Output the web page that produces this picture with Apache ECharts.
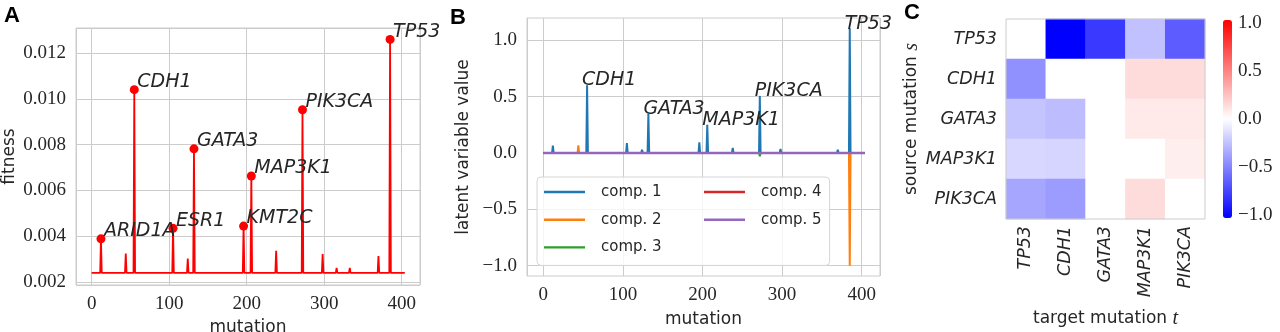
<!DOCTYPE html>
<html>
<head>
<meta charset="utf-8">
<script src="https://cdn.jsdelivr.net/npm/echarts@6/dist/echarts.min.js"></script>
<style>
  html, body { margin: 0; padding: 0; background: #fff; }
  #chart { width: 1280px; height: 332px; }
</style>
</head>
<body>
<div id="chart"></div>
<script>
// ---- data ----
const mutationMax = 404;

// panel A: fitness per mutation (spikes on a flat baseline)
const fitnessBase = 0.00239;
const fitnessPeakAt = [12, 44, 55, 105, 124, 132, 196, 206, 238, 272, 298, 316, 333, 370, 385];
const fitnessPeak = [0.00388, 0.00324, 0.01041, 0.00434, 0.00302, 0.00782, 0.00444, 0.00663,
  0.00336, 0.00953, 0.00321, 0.00261, 0.00261, 0.00313, 0.01261];
const fitnessGene = ['ARID1A', '', 'CDH1', 'ESR1', '', 'GATA3', 'KMT2C', 'MAP3K1',
  '', 'PIK3CA', '', '', '', '', 'TP53'];

// panel B: latent components (zero except at spikes)
const comp1At = [12, 55, 105, 124, 132, 196, 206, 238, 272, 298, 316, 333, 370, 385];
const comp1Val = [0.065, 0.595, 0.089, 0.03, 0.342, 0.095, 0.244, 0.045, 0.5, 0.035, 0.01, 0.01, 0.03, 1.1];
const comp2At = [44, 385];
const comp2Val = [0.068, -1.0];
const comp3At = [272];
const comp3Val = [-0.03];
const comp4At = [];
const comp4Val = [];
const comp5At = [];
const comp5Val = [];
const latentGene = ['CDH1', 'GATA3', 'MAP3K1', 'PIK3CA', 'TP53'];
const latentGeneAt = [55, 132, 206, 272, 385];
const latentGeneVal = [0.595, 0.342, 0.244, 0.5, 1.1];
const latentGridAt = [-1.0, -0.5, 0.5, 1.0];

// panel C: interaction of source s (rows) on target t (columns)
const heatGenes = ['TP53', 'CDH1', 'GATA3', 'MAP3K1', 'PIK3CA'];
const fromTP53 = [0, -1.03, -0.80, -0.25, -0.66];
const fromCDH1 = [-0.45, 0, 0, 0.14, 0.14];
const fromGATA3 = [-0.24, -0.27, 0, 0.09, 0.09];
const fromMAP3K1 = [-0.16, -0.17, 0, 0, 0.07];
const fromPIK3CA = [-0.36, -0.40, 0, 0.14, 0];
const colorLimit = 1.03;

// ---- helpers ----
const sans = "'DejaVu Sans'";
const serif = "'Liberation Serif'";
const ink = '#262626';
const gridGray = '#cccccc';

function spikes(at, val, base) {
  const pts = [[0, base]];
  at.forEach((x, i) => { pts.push([x - 1, base], [x, val[i]], [x + 1, base]); });
  pts.push([mutationMax, base]);
  return pts;
}
function minusFmt(v) {
  return (v < 0 ? '\u2212' : '') + Math.abs(v).toFixed(1);
}

const nameFont = { fontFamily: sans, fontSize: 17, color: ink };
const geneFont = { fontFamily: sans, fontSize: 19, fontStyle: 'italic', color: ink };
const mathRich = { i: { fontFamily: serif, fontStyle: 'italic', fontSize: 20, color: ink } };

function tickLabel(margin, formatter) {
  const l = { margin: margin, fontFamily: serif, fontSize: 19, color: ink, showMinLabel: false, showMaxLabel: false };
  if (formatter) l.formatter = formatter;
  return l;
}

const heatRows = [fromTP53, fromCDH1, fromGATA3, fromMAP3K1, fromPIK3CA];
const heatData = [];
heatRows.forEach((row, r) => row.forEach((v, c) => heatData.push([c, r, v])));

const fitnessLabelled = [];
fitnessPeakAt.forEach((x, i) => {
  if (fitnessGene[i]) fitnessLabelled.push({ name: fitnessGene[i], value: [x, fitnessPeak[i]] });
});

const tab = ['#1f77b4', '#ff7f0e', '#2ca02c', '#d62728', '#9467bd'];
const comps = [[comp1At, comp1Val], [comp2At, comp2Val], [comp3At, comp3Val], [comp4At, comp4Val], [comp5At, comp5Val]];

const letter = { fontFamily: "'Liberation Sans'", fontWeight: 'bold', fontSize: 22, color: '#000' };
const splitGray = { show: true, lineStyle: { color: gridGray, width: 1 } };

const chart = echarts.init(document.getElementById('chart'));
chart.setOption({
  animation: false,
  title: [
    { text: 'A', left: 4, top: 5, padding: 0, textStyle: letter },
    { text: 'B', left: 450, top: 7, padding: 0, textStyle: letter },
    { text: 'C', left: 904, top: 2, padding: 0, textStyle: letter }
  ],
  grid: [
    { left: 76, top: 28, width: 344, height: 257, outerBoundsMode: 'none', show: true, borderColor: gridGray, borderWidth: 1, backgroundColor: 'transparent', z: 0 },
    { left: 527, top: 18, width: 353, height: 258, outerBoundsMode: 'none', show: true, borderColor: gridGray, borderWidth: 1, backgroundColor: 'transparent', z: 0 },
    { left: 1006, top: 19, width: 199, height: 200, outerBoundsMode: 'none', show: true, borderColor: gridGray, borderWidth: 1, backgroundColor: 'transparent', z: 5 },
    { left: 1223, top: 23.3, width: 9, height: 192.2, outerBoundsMode: 'none' }
  ],
  xAxis: [
    {
      gridIndex: 0, type: 'value', min: -20.2, max: 423.6, z: 0,
      axisLine: { show: false }, axisTick: { show: false },
      axisLabel: tickLabel(10), splitLine: splitGray,
      name: 'mutation', nameLocation: 'middle', nameGap: 34, nameTextStyle: nameFont
    },
    {
      gridIndex: 1, type: 'value', min: -20.5, max: 423, z: 0,
      axisLine: { show: false, onZero: false }, axisTick: { show: false },
      axisLabel: tickLabel(10), splitLine: splitGray,
      name: 'mutation', nameLocation: 'middle', nameGap: 35, nameTextStyle: nameFont
    },
    {
      gridIndex: 2, type: 'category', data: heatGenes,
      axisLine: { show: false }, axisTick: { show: false }, splitLine: { show: false },
      axisLabel: { rotate: 90, margin: 7, fontFamily: sans, fontSize: 17.5, fontStyle: 'italic', color: ink },
      name: 'target mutation {i|t}', nameLocation: 'middle', nameGap: 90,
      nameTextStyle: { ...nameFont, rich: mathRich }
    },
    { gridIndex: 3, type: 'value', show: false, min: 0, max: 1 }
  ],
  yAxis: [
    {
      gridIndex: 0, type: 'value', min: 0.00186, max: 0.01311, z: 0,
      axisLine: { show: false }, axisTick: { show: false },
      axisLabel: tickLabel(10, v => v.toFixed(3)), splitLine: splitGray,
      name: 'fitness', nameLocation: 'middle', nameGap: 58, nameTextStyle: nameFont
    },
    {
      gridIndex: 1, type: 'value', min: -1.092, max: 1.1986, z: 0,
      axisLine: { show: false, onZero: false }, axisTick: { show: false },
      axisLabel: tickLabel(10, minusFmt), splitLine: { show: false },
      name: 'latent variable value', nameLocation: 'middle', nameGap: 55, nameTextStyle: nameFont
    },
    {
      gridIndex: 2, type: 'category', data: heatGenes, inverse: true,
      axisLine: { show: false }, axisTick: { show: false }, splitLine: { show: false },
      axisLabel: { margin: 9, fontFamily: sans, fontSize: 17.5, fontStyle: 'italic', color: ink },
      name: 'source mutation {i|s}', nameLocation: 'middle', nameGap: 84,
      nameTextStyle: { ...nameFont, rich: mathRich }
    },
    {
      gridIndex: 3, type: 'value', position: 'right', min: -1, max: 1, interval: 0.5,
      axisLine: { show: false },
      axisTick: { show: true, length: 4, lineStyle: { color: ink, width: 1 } },
      axisLabel: { margin: 6, fontFamily: serif, fontSize: 19, color: ink, formatter: minusFmt },
      splitLine: { show: false }
    }
  ],
  legend: [
    {
      data: ['comp. 1', 'comp. 2', 'comp. 3'], orient: 'vertical', left: 537, top: 177, z: 20,
      padding: [7, 168, 10, 7], itemWidth: 41, itemHeight: 2.4, itemGap: 11.7, icon: 'rect',
      backgroundColor: 'rgba(255,255,255,0.8)', borderColor: '#d5d5d5', borderWidth: 1, borderRadius: 4,
      selectedMode: false,
      textStyle: { fontFamily: sans, fontSize: 15, color: ink, lineHeight: 16, padding: [0, 0, 0, 11] }
    },
    {
      data: ['comp. 4', 'comp. 5'], orient: 'vertical', left: 704, top: 184, z: 21,
      padding: 0, itemWidth: 41, itemHeight: 2.4, itemGap: 11.7, icon: 'rect', selectedMode: false,
      textStyle: { fontFamily: sans, fontSize: 15, color: ink, lineHeight: 16, padding: [0, 0, 0, 11] }
    }
  ],
  visualMap: {
    type: 'continuous', min: -colorLimit, max: colorLimit, seriesIndex: 8, orient: 'vertical',
    left: 1223, top: 20, itemWidth: 9, itemHeight: 198, padding: 0,
    calculable: false, showLabel: false, text: null,
    inRange: { color: ['#0000ff', '#ffffff', '#ff0000'] }
  },
  series: [
    {
      type: 'line', xAxisIndex: 0, yAxisIndex: 0, data: spikes(fitnessPeakAt, fitnessPeak, fitnessBase), z: 10,
      showSymbol: false, symbol: 'none', lineStyle: { color: '#ff0000', width: 1.8 }, itemStyle: { color: '#ff0000' }
    },
    {
      type: 'scatter', xAxisIndex: 0, yAxisIndex: 0, data: fitnessLabelled, symbolSize: 9, z: 11,
      itemStyle: { color: '#ff0000', opacity: 1 },
      label: { show: true, formatter: '{b}', position: [7.5, 6.5], align: 'left', verticalAlign: 'bottom', ...geneFont }
    },
    ...comps.map((c, i) => ({
      name: 'comp. ' + (i + 1), type: 'line', xAxisIndex: 1, yAxisIndex: 1,
      data: spikes(c[0], c[1], 0), showSymbol: false, symbol: 'none', z: 10 + i,
      lineStyle: { color: tab[i], width: i === 4 ? 2.4 : (i === 3 ? 1 : 2), opacity: 1 }, itemStyle: { color: tab[i] }
    })),
    {
      type: 'scatter', xAxisIndex: 1, yAxisIndex: 1, symbolSize: 2,
      data: latentGene.map((g, i) => ({ name: g, value: [latentGeneAt[i], latentGeneVal[i]] })),
      itemStyle: { color: tab[0], opacity: 1 }, z: 16,
      label: { show: true, formatter: '{b}', position: [-4, 5], align: 'left', verticalAlign: 'bottom', ...geneFont }
    },
    {
      type: 'heatmap', xAxisIndex: 2, yAxisIndex: 2, data: heatData, z: 1
    },
    {
      // horizontal grid lines of panel B, kept beneath the component lines
      type: 'line', xAxisIndex: 1, yAxisIndex: 1, data: [], z: 1, silent: true,
      markLine: {
        silent: true, symbol: 'none', label: { show: false },
        lineStyle: { color: gridGray, width: 1, type: 'solid' },
        data: latentGridAt.map(v => ({ yAxis: v }))
      }
    }
  ]
});
</script>
</body>
</html>
